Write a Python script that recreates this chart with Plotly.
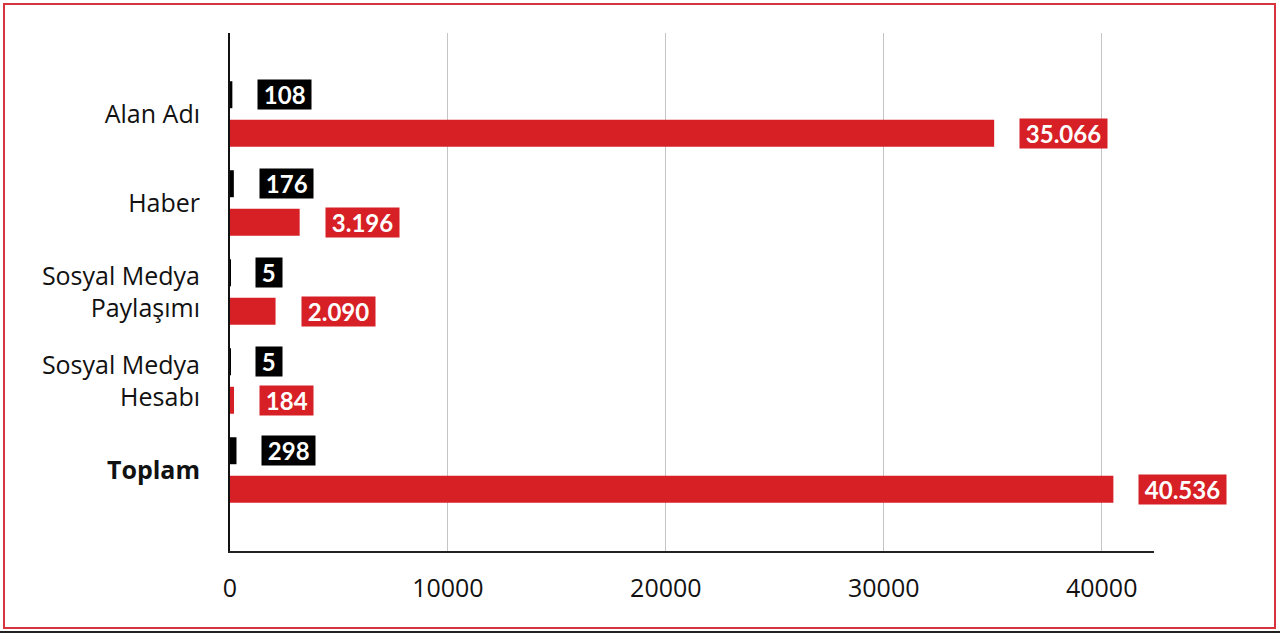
import plotly.graph_objects as go

categories = ["Alan Adı", "Haber", "Sosyal Medya<br>Paylaşımı", "Sosyal Medya<br>Hesabı", "<b>Toplam</b>"]
black_values = [108, 176, 5, 5, 298]
red_values = [35066, 3196, 2090, 184, 40536]
x_ticks = [0, 10000, 20000, 30000, 40000]

RED = "#d71f26"
BLACK = "#000000"
W, H = 1280, 633
ML, MR, MT, MB = 230, 126, 33, 82
PW, PH = W - ML - MR, H - MT - MB


def px(xp):
    return (xp - ML) / PW


def py(yp):
    return (H - MB - yp) / PH


def fmt(v):
    return f"{v:,}".replace(",", ".")


ypos = list(range(len(categories)))

fig = go.Figure()
fig.add_trace(go.Bar(y=ypos, x=black_values, orientation="h", marker=dict(color=BLACK, line=dict(width=0)),
                     name="black", hoverinfo="skip"))
fig.add_trace(go.Bar(y=ypos, x=red_values, orientation="h", marker=dict(color=RED, line=dict(width=0)),
                     name="red", hoverinfo="skip"))

annotations = []
off = 0.2165
for i, (b, r) in enumerate(zip(black_values, red_values)):
    for val, col, dy in ((b, BLACK, -off), (r, RED, off)):
        annotations.append(dict(
            x=val, y=i + dy, xref="x", yref="y", text="\u00a0" + fmt(val) + "\u00a0",
            showarrow=False, xanchor="left", yanchor="middle", xshift=25,
            bgcolor=col, borderpad=0,
            font=dict(family="Lato", size=24, color="white", weight="bold"),
        ))

shapes = [
    dict(type="rect", xref="paper", yref="paper", x0=px(4), x1=px(1275), y0=py(628), y1=py(4),
         line=dict(color="#d7343f", width=2), fillcolor="rgba(0,0,0,0)", layer="above"),
    dict(type="line", xref="paper", yref="paper", x0=px(0), x1=px(1280), y0=py(632), y1=py(632),
         line=dict(color="#222222", width=2)),
]

fig.update_layout(
    width=W, height=H,
    margin=dict(l=ML, r=MR, t=MT, b=MB, pad=0),
    paper_bgcolor="white", plot_bgcolor="white",
    barmode="group", bargap=0.134, bargroupgap=0.30,
    showlegend=False,
    annotations=annotations,
    shapes=shapes,
    font=dict(family="Open Sans", color="#111111"),
)
fig.update_xaxes(
    range=[0, 42400], tickvals=x_ticks, tickformat="d",
    showgrid=True, gridcolor="#c4c4c4", gridwidth=1,
    showline=True, linecolor="#222222", linewidth=2,
    zeroline=False, ticks="", ticklabelstandoff=14,
    tickfont=dict(size=25, color="#111111"),
)
fig.update_yaxes(
    range=[4.91, -0.91], tickvals=ypos, ticktext=categories,
    showgrid=False, zeroline=False,
    showline=True, linecolor="#111111", linewidth=2,
    ticks="", ticklabelstandoff=23,
    tickfont=dict(size=25, color="#111111"),
)

fig.write_html(
    "out.html",
    config={"displayModeBar": False},
    post_script="document.body.style.margin='0';document.body.style.overflow='hidden';",
)
